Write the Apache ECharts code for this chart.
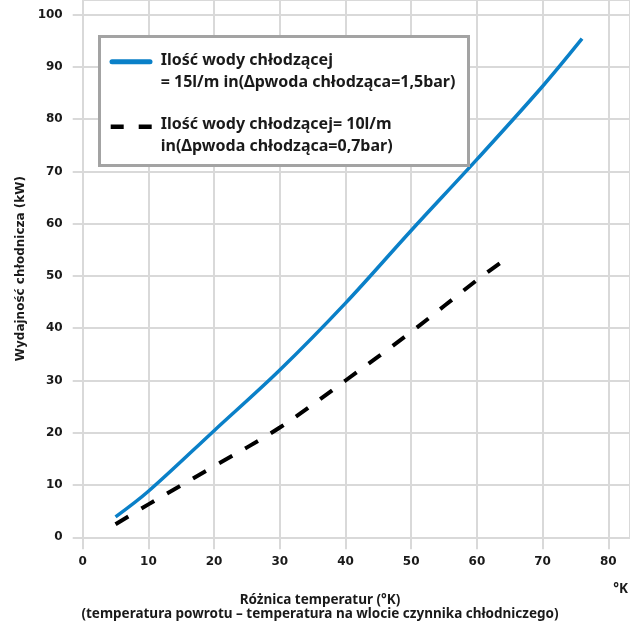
<!DOCTYPE html>
<html>
<head>
<meta charset="utf-8">
<script src="https://cdn.jsdelivr.net/npm/echarts@6/dist/echarts.min.js"></script>
<style>
html,body{margin:0;padding:0;background:#fff;}
#chart{width:630px;height:622px;}
</style>
</head>
<body>
<div id="chart"></div>
<script>
// Data
const xTicks = [0, 10, 20, 30, 40, 50, 60, 70, 80];
const yTicks = [0, 10, 20, 30, 40, 50, 60, 70, 80, 90, 100];
const series15X = [5, 10, 20, 30, 40, 50, 60, 70, 76];
const series15Y = [3.9, 8.8, 20.4, 32.0, 44.8, 58.7, 72.3, 86.3, 95.4];
const series10X = [5, 10, 20, 30, 40, 50, 60, 65];
const series10Y = [2.5, 6.3, 13.6, 21.0, 30.0, 39.3, 49.2, 53.8];
const seriesNames = [
  'Ilość wody chłodzącej = 15l/m in(Δpwoda chłodząca=1,5bar)',
  'Ilość wody chłodzącej= 10l/m in(Δpwoda chłodząca=0,7bar)'
];
const legendLines = [
  ['Ilość wody chłodzącej', '= 15l/m in(Δpwoda chłodząca=1,5bar)'],
  ['Ilość wody chłodzącej= 10l/m', 'in(Δpwoda chłodząca=0,7bar)']
];
const yTitle = 'Wydajność chłodnicza (kW)';
const xTitle1 = 'Różnica temperatur (°K)';
const xTitle2 = '(temperatura powrotu – temperatura na wlocie czynnika chłodniczego)';
const xUnit = '°K';

const gridCol = '#d9d9d9';
const txtCol = '#1a1a1a';
const blue = '#0a80c8';

const pairs = (xs, ys) => xs.map((x, i) => [x, ys[i]]);

const chart = echarts.init(document.getElementById('chart'), null, {renderer: 'canvas'});
const labelFont = {fontFamily: 'DejaVu Sans', fontWeight: 'bold', fontSize: 12, color: txtCol};
const legFont = 'bold 16px "Noto Sans"';
const titleFont = 'bold 13.5px "Noto Sans"';
const option = {
  animation: false,
  backgroundColor: '#fff',
  grid: {left: 82.7, top: 0, right: 0, height: 537.3, containLabel: false},
  xAxis: {
    type: 'value', min: 0, max: 83.3, interval: 10,
    axisLine: {show: true, lineStyle: {color: gridCol, width: 2}},
    axisTick: {show: true, length: 12, lineStyle: {color: gridCol, width: 2}},
    splitLine: {show: true, lineStyle: {color: gridCol, width: 2}},
    axisLabel: Object.assign({margin: 19, showMaxLabel: false,
      formatter: v => xTicks.indexOf(v) >= 0 ? String(v) : ''}, labelFont)
  },
  yAxis: {
    type: 'value', min: 0, max: 102.8, interval: 10,
    name: yTitle, nameLocation: 'middle', nameGap: 56, nameRotate: 90,
    nameTextStyle: {fontFamily: 'DejaVu Sans', fontWeight: 'bold', fontSize: 12, color: txtCol},
    axisLine: {show: true, lineStyle: {color: gridCol, width: 2}},
    axisTick: {show: true, length: 10, lineStyle: {color: gridCol, width: 2}},
    splitLine: {show: true, lineStyle: {color: gridCol, width: 2}},
    axisLabel: Object.assign({margin: 20, showMaxLabel: false,
      formatter: v => yTicks.indexOf(v) >= 0 ? String(v) : ''}, labelFont)
  },
  series: [
    {name: seriesNames[0], type: 'line', smooth: 0.35, showSymbol: false,
     data: pairs(series15X, series15Y), lineStyle: {color: blue, width: 3.5}, z: 3},
    {name: seriesNames[1], type: 'line', smooth: 0.35, showSymbol: false,
     data: pairs(series10X, series10Y), lineStyle: {color: '#000', width: 4, type: [15, 15]}, z: 3}
  ],
  graphic: [
    {type: 'rect', z: 10, shape: {x: 99.5, y: 36.5, width: 369, height: 129},
     style: {fill: '#fff', stroke: '#a3a3a3', lineWidth: 3}},
    {type: 'line', z: 11, shape: {x1: 112, y1: 61.7, x2: 150, y2: 61.7},
     style: {stroke: blue, lineWidth: 5, lineCap: 'round'}},
    {type: 'line', z: 11, shape: {x1: 110.7, y1: 126.7, x2: 151.7, y2: 126.7},
     style: {stroke: '#000', lineWidth: 4.5, lineDash: [13, 15]}},
    {type: 'text', z: 11, x: 160.7, y: 60, style: {text: legendLines[0][0], font: legFont, fill: txtCol, verticalAlign: 'middle'}},
    {type: 'text', z: 11, x: 160.7, y: 82.7, style: {text: legendLines[0][1], font: legFont, fill: txtCol, verticalAlign: 'middle'}},
    {type: 'text', z: 11, x: 160.7, y: 124.3, style: {text: legendLines[1][0], font: legFont, fill: txtCol, verticalAlign: 'middle'}},
    {type: 'text', z: 11, x: 160.7, y: 146.7, style: {text: legendLines[1][1], font: legFont, fill: txtCol, verticalAlign: 'middle'}},
    {type: 'text', z: 11, x: 320, y: 600, style: {text: xTitle1, font: titleFont, fill: txtCol, align: 'center', verticalAlign: 'middle'}},
    {type: 'text', z: 11, x: 320, y: 614, style: {text: xTitle2, font: titleFont, fill: txtCol, align: 'center', verticalAlign: 'middle'}},
    {type: 'text', z: 11, x: 628, y: 589, style: {text: xUnit, font: titleFont, fill: txtCol, align: 'right', verticalAlign: 'middle'}}
  ]
};
chart.setOption(option);
</script>
</body>
</html>
